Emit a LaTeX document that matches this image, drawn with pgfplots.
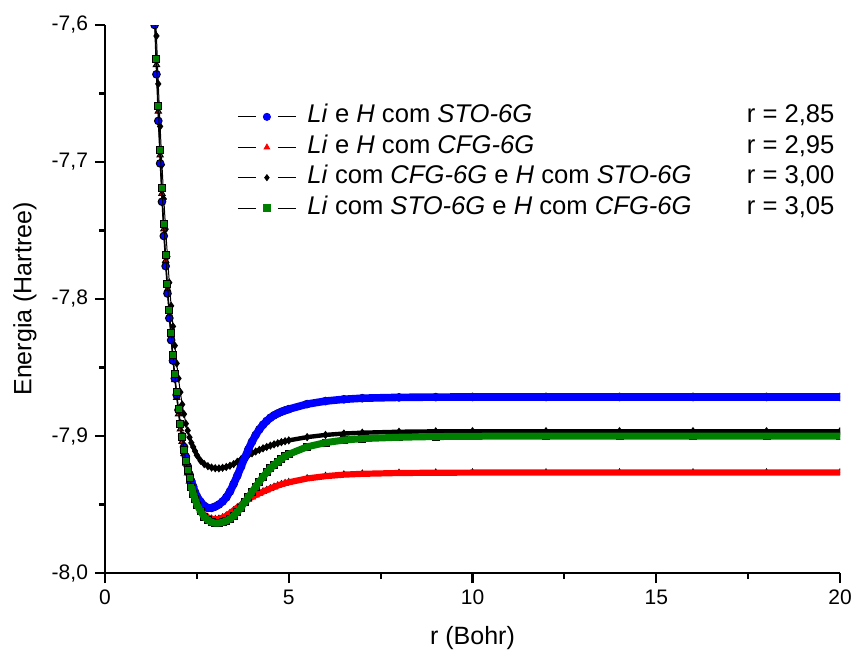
\documentclass[border=0pt]{standalone}
\usepackage{fontspec}
\setmainfont{Liberation Sans}
\usepackage{pgfplots}
\usepackage{pgfplotstable}
\pgfplotsset{compat=1.18}
\definecolor{ogreen}{RGB}{0,128,0}

% Li e H com STO-6G
\pgfplotstableread{
r E
1.35 -7.600
1.40 -7.636
1.45 -7.670
1.50 -7.701
1.55 -7.729
1.60 -7.754
1.65 -7.776
1.70 -7.796
1.75 -7.814
1.80 -7.830
1.85 -7.845
1.90 -7.858
1.95 -7.870
2.00 -7.881
2.05 -7.891
2.10 -7.900
2.15 -7.908
2.20 -7.915
2.25 -7.922
2.30 -7.928
2.35 -7.933
2.40 -7.937
2.45 -7.941
2.50 -7.944
2.60 -7.948
2.70 -7.951
2.80 -7.9525
2.90 -7.9525
3.00 -7.9515
3.10 -7.9500
3.20 -7.9478
3.30 -7.9448
3.40 -7.9405
3.50 -7.9350
3.60 -7.9290
3.70 -7.9225
3.80 -7.9160
3.90 -7.9098
4.00 -7.9042
4.10 -7.8993
4.20 -7.8952
4.30 -7.8918
4.40 -7.8890
4.50 -7.8867
4.60 -7.8849
4.70 -7.8835
4.80 -7.8823
4.90 -7.8813
5.00 -7.8804
5.50 -7.8767
6.00 -7.8745
6.50 -7.8732
7.00 -7.8724
8.00 -7.8718
9.00 -7.8716
10.0 -7.8715
12.0 -7.8715
14.0 -7.8715
16.0 -7.8715
18.0 -7.8715
20.0 -7.8715
}\tabBlue

% Li e H com CFG-6G
\pgfplotstableread{
r E
1.35 -7.592
1.40 -7.629
1.45 -7.663
1.50 -7.695
1.55 -7.723
1.60 -7.749
1.65 -7.772
1.70 -7.793
1.75 -7.812
1.80 -7.829
1.85 -7.845
1.90 -7.859
1.95 -7.872
2.00 -7.884
2.05 -7.895
2.10 -7.904
2.15 -7.913
2.20 -7.920
2.25 -7.927
2.30 -7.933
2.35 -7.938
2.40 -7.943
2.45 -7.947
2.50 -7.950
2.60 -7.9545
2.70 -7.9575
2.80 -7.9595
2.90 -7.9605
3.00 -7.9608
3.10 -7.9605
3.20 -7.9596
3.30 -7.9582
3.40 -7.9564
3.50 -7.9543
3.60 -7.9522
3.70 -7.9503
3.80 -7.9482
3.90 -7.9463
4.00 -7.9445
4.10 -7.9431
4.20 -7.9418
4.30 -7.9406
4.40 -7.9395
4.50 -7.9383
4.60 -7.9372
4.70 -7.9362
4.80 -7.9353
4.90 -7.9345
5.00 -7.9338
5.50 -7.9310
6.00 -7.9293
6.50 -7.9282
7.00 -7.9276
8.00 -7.9270
9.00 -7.9268
10.0 -7.9267
12.0 -7.9267
14.0 -7.9267
16.0 -7.9267
18.0 -7.9267
20.0 -7.9267
}\tabRed

% Li com CFG-6G e H com STO-6G
\pgfplotstableread{
r E
1.35 -7.578
1.40 -7.608
1.45 -7.643
1.50 -7.674
1.55 -7.702
1.60 -7.727
1.65 -7.749
1.70 -7.769
1.75 -7.788
1.80 -7.805
1.85 -7.820
1.90 -7.834
1.95 -7.847
2.00 -7.858
2.05 -7.868
2.10 -7.877
2.15 -7.884
2.20 -7.891
2.25 -7.896
2.30 -7.901
2.35 -7.905
2.40 -7.908
2.45 -7.911
2.50 -7.914
2.60 -7.918
2.70 -7.9205
2.80 -7.9220
2.90 -7.9230
3.00 -7.9235
3.10 -7.9236
3.20 -7.9232
3.30 -7.9226
3.40 -7.9217
3.50 -7.9205
3.60 -7.9188
3.70 -7.9171
3.80 -7.9155
3.90 -7.9140
4.00 -7.9126
4.10 -7.9113
4.20 -7.9101
4.30 -7.9090
4.40 -7.9080
4.50 -7.9070
4.60 -7.9061
4.70 -7.9053
4.80 -7.9045
4.90 -7.9038
5.00 -7.9032
5.50 -7.9008
6.00 -7.8992
6.50 -7.8982
7.00 -7.8976
8.00 -7.8969
9.00 -7.8966
10.0 -7.8965
12.0 -7.8965
14.0 -7.8965
16.0 -7.8965
18.0 -7.8965
20.0 -7.8965
}\tabBlack

% Li com STO-6G e H com CFG-6G
\pgfplotstableread{
r E
1.35 -7.588
1.40 -7.625
1.45 -7.659
1.50 -7.691
1.55 -7.719
1.60 -7.745
1.65 -7.768
1.70 -7.789
1.75 -7.808
1.80 -7.825
1.85 -7.841
1.90 -7.855
1.95 -7.868
2.00 -7.880
2.05 -7.891
2.10 -7.901
2.15 -7.910
2.20 -7.918
2.25 -7.925
2.30 -7.931
2.35 -7.937
2.40 -7.942
2.45 -7.946
2.50 -7.950
2.60 -7.955
2.70 -7.9590
2.80 -7.9615
2.90 -7.9630
3.00 -7.9636
3.10 -7.9635
3.20 -7.9630
3.30 -7.9620
3.40 -7.9605
3.50 -7.9583
3.60 -7.9555
3.70 -7.9522
3.80 -7.9485
3.90 -7.9447
4.00 -7.9408
4.10 -7.9370
4.20 -7.9333
4.30 -7.9298
4.40 -7.9266
4.50 -7.9237
4.60 -7.9211
4.70 -7.9188
4.80 -7.9167
4.90 -7.9149
5.00 -7.9133
5.50 -7.9079
6.00 -7.9048
6.50 -7.9030
7.00 -7.9019
8.00 -7.9009
9.00 -7.9004
10.0 -7.9002
12.0 -7.9000
14.0 -7.9000
16.0 -7.9000
18.0 -7.9000
20.0 -7.9000
}\tabGreen

\begin{document}
\begin{tikzpicture}
\begin{axis}[
    scale only axis,
    width=367.5pt, height=274pt,
    xmin=0, xmax=20, ymin=-8, ymax=-7.6,
    clip marker paths=true,
    axis lines*=left,
    axis line style={line width=1.1pt},
    tick align=outside,
    major tick length=5pt, minor tick length=3pt,
    every tick/.style={black, line width=1.1pt},
    xtick={0,5,10,15,20}, minor xtick={2.5,7.5,12.5,17.5},
    ytick={-8,-7.9,-7.8,-7.7,-7.6}, minor ytick={-7.95,-7.85,-7.75,-7.65},
    tick label style={font=\fontsize{10.5}{12}\selectfont},
    /pgf/number format/assume math mode=true,
    yticklabel style={/pgf/number format/.cd, fixed, fixed zerofill, precision=1, use comma},
    xlabel={r (Bohr)},
    ylabel={Energia (Hartree)},
    label style={font=\fontsize{12.5}{15}\selectfont},
    xlabel style={at={(axis description cs:0.5,-0.1186)}, anchor=center},
    ylabel style={at={(axis description cs:-0.1088,0.5)}, anchor=center},
    legend cell align=left,
    legend style={draw=none, fill=none, inner sep=0pt,
        at={(axis description cs:0.1796,0.855)}, anchor=north west,
        font=\fontsize{12.8}{15}\selectfont,
        nodes={inner sep=0pt, text height=9pt, text depth=3pt},
        row sep=3.2pt, column sep=5.5pt},
]
% black series
\addplot[black, line width=0.5pt, mark=diamond*, mark size=1.7pt,
    mark options={draw=none, fill=black}, forget plot] table[x=r, y=E] {\tabBlack};
\addplot[black, mark=none, line width=2.2pt, restrict x to domain=2.5:20, forget plot] table[x=r, y=E] {\tabBlack};
% red series
\addplot[black, line width=0.5pt, mark=triangle*, mark size=1.8pt,
    mark options={draw=none, fill=red}, forget plot] table[x=r, y=E] {\tabRed};
\addplot[red, mark=none, line width=3.1pt, restrict x to domain=2.5:20, forget plot] table[x=r, y=E] {\tabRed};
% blue series
\addplot[black, line width=0.5pt, mark=*, mark size=1.9pt,
    mark options={draw=none, fill=blue}, forget plot] table[x=r, y=E] {\tabBlue};
\addplot[blue, mark=none, line width=3.8pt, restrict x to domain=2.35:20, forget plot] table[x=r, y=E] {\tabBlue};
% green series
\addplot[black, line width=0.5pt, mark=square*, mark size=1.75pt,
    mark options={draw=none, fill=ogreen}, forget plot] table[x=r, y=E] {\tabGreen};
\addplot[ogreen, mark=none, line width=3.5pt, restrict x to domain=2.35:20, forget plot] table[x=r, y=E] {\tabGreen};

\addlegendimage{legend image code/.code={
    \draw[black, line width=0.5pt] (0pt,0pt) -- (9pt,0pt) (20pt,0pt) -- (29pt,0pt);
    \path[blue] plot[mark=*, mark size=1.8pt, mark options={draw=none, fill=blue}] coordinates {(14.5pt,0pt)};}}
\addlegendentry{{\makebox[263.5pt]{\textit{Li} e \textit{H} com \textit{STO-6G}\hfill r = 2,85}}}
\addlegendimage{legend image code/.code={
    \draw[black, line width=0.5pt] (0pt,0pt) -- (9pt,0pt) (20pt,0pt) -- (29pt,0pt);
    \path[red] plot[mark=triangle*, mark size=1.6pt, mark options={draw=none, fill=red}] coordinates {(14.5pt,0pt)};}}
\addlegendentry{{\makebox[263.5pt]{\textit{Li} e \textit{H} com \textit{CFG-6G}\hfill r = 2,95}}}
\addlegendimage{legend image code/.code={
    \draw[black, line width=0.5pt] (0pt,0pt) -- (9pt,0pt) (20pt,0pt) -- (29pt,0pt);
    \path[black] plot[mark=diamond*, mark size=1.5pt, mark options={draw=none, fill=black}] coordinates {(14.5pt,0pt)};}}
\addlegendentry{{\makebox[263.5pt]{\textit{Li} com \textit{CFG-6G} e \textit{H} com \textit{STO-6G}\hfill r = 3,00}}}
\addlegendimage{legend image code/.code={
    \draw[black, line width=0.5pt] (0pt,0pt) -- (9pt,0pt) (20pt,0pt) -- (29pt,0pt);
    \path[ogreen] plot[mark=square*, mark size=1.6pt, mark options={draw=none, fill=ogreen}] coordinates {(14.5pt,0pt)};}}
\addlegendentry{{\makebox[263.5pt]{\textit{Li} com \textit{STO-6G} e \textit{H} com \textit{CFG-6G}\hfill r = 3,05}}}

\coordinate (BL) at (rel axis cs:0,0);
\coordinate (TR) at (rel axis cs:1,1);
\end{axis}
\pgfresetboundingbox
\path[use as bounding box] ([shift={(-52.5pt,-41pt)}]BL) rectangle ([shift={(7pt,12.5pt)}]TR);
\end{tikzpicture}
\end{document}
